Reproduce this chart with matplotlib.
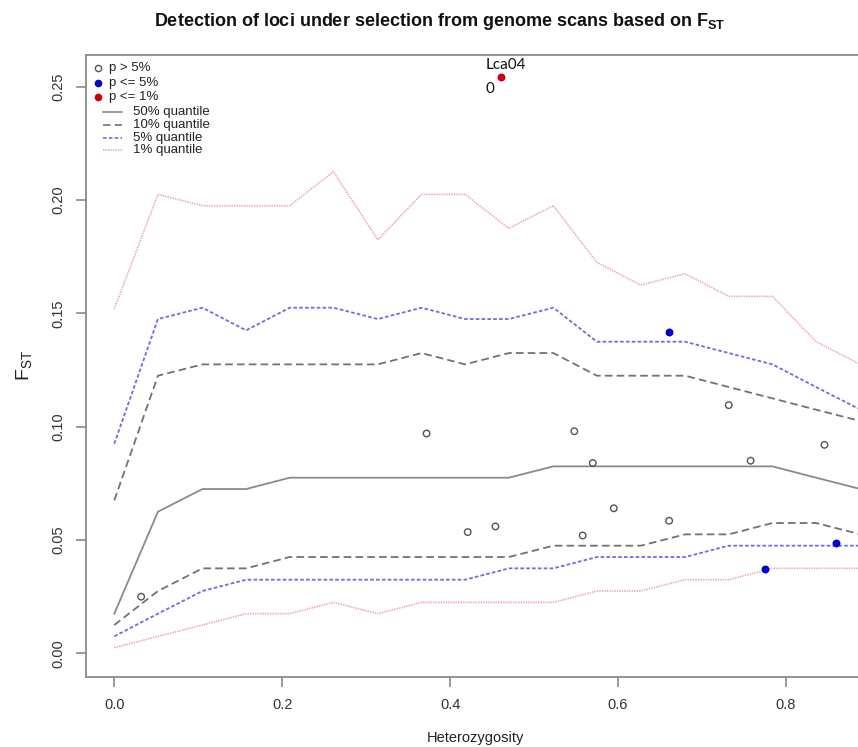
import numpy as np
import matplotlib
matplotlib.use("Agg")
import matplotlib.pyplot as plt
from matplotlib.lines import Line2D

plt.rcParams["font.family"] = ["Liberation Sans", "DejaVu Sans"]
plt.rcParams["mathtext.fontset"] = "custom"
plt.rcParams["mathtext.rm"] = "Liberation Sans"
plt.rcParams["mathtext.it"] = "Liberation Sans:italic"
plt.rcParams["mathtext.bf"] = "Liberation Sans:bold"
plt.rcParams["lines.scale_dashes"] = False

# heterozygosity bins of the simulated quantile curves
het_bins = [0.0, 0.052, 0.105, 0.157, 0.209, 0.261, 0.314, 0.366, 0.418,
            0.470, 0.523, 0.575, 0.627, 0.680, 0.732, 0.784, 0.836, 0.889]

q50 = [0.0175, 0.0625, 0.0725, 0.0725, 0.0775, 0.0775, 0.0775, 0.0775, 0.0775,
       0.0775, 0.0825, 0.0825, 0.0825, 0.0825, 0.0825, 0.0825, 0.0775, 0.0725]
q10_hi = [0.0675, 0.1225, 0.1275, 0.1275, 0.1275, 0.1275, 0.1275, 0.1325, 0.1275,
          0.1325, 0.1325, 0.1225, 0.1225, 0.1225, 0.1175, 0.1125, 0.1075, 0.1025]
q10_lo = [0.0125, 0.0275, 0.0375, 0.0375, 0.0425, 0.0425, 0.0425, 0.0425, 0.0425,
          0.0425, 0.0475, 0.0475, 0.0475, 0.0525, 0.0525, 0.0575, 0.0575, 0.0525]
q5_hi = [0.0925, 0.1475, 0.1525, 0.1425, 0.1525, 0.1525, 0.1475, 0.1525, 0.1475,
         0.1475, 0.1525, 0.1375, 0.1375, 0.1375, 0.1325, 0.1275, 0.1175, 0.1075]
q5_lo = [0.0075, 0.0175, 0.0275, 0.0325, 0.0325, 0.0325, 0.0325, 0.0325, 0.0325,
         0.0375, 0.0375, 0.0425, 0.0425, 0.0425, 0.0475, 0.0475, 0.0475, 0.0475]
q1_hi = [0.152, 0.2025, 0.1975, 0.1975, 0.1975, 0.2125, 0.1825, 0.2025, 0.2025,
         0.1875, 0.1975, 0.1725, 0.1625, 0.1675, 0.1575, 0.1575, 0.1375, 0.1275]
q1_lo = [0.0025, 0.0075, 0.0125, 0.0175, 0.0175, 0.0225, 0.0175, 0.0225, 0.0225,
         0.0225, 0.0225, 0.0275, 0.0275, 0.0325, 0.0325, 0.0375, 0.0375, 0.0375]

# observed loci
neutral_het = [0.032, 0.372, 0.421, 0.454, 0.548, 0.558, 0.570, 0.595, 0.661, 0.732, 0.758, 0.846]
neutral_fst = [0.025, 0.097, 0.0535, 0.056, 0.098, 0.052, 0.084, 0.064, 0.0585, 0.1095, 0.085, 0.092]
p5_het = [0.661, 0.775, 0.860]
p5_fst = [0.1416, 0.037, 0.0485]
p1_het = [0.4607]
p1_fst = [0.2541]

legend_labels = ["p > 5%", "p <= 5%", "p <= 1%",
                 "50% quantile", "10% quantile", "5% quantile", "1% quantile"]

W, H = 858, 747
fig = plt.figure(figsize=(W / 100, H / 100), dpi=100)
ax = fig.add_axes([86 / W, (H - 676.7) / H, (878.2 - 86) / W, (676.7 - 55) / H])

c50, c10, c5, c1 = "#8a8a8a", "#727272", "#6b6bec", "#f1a3ad"
ax.plot(het_bins, q50, color=c50, lw=1.3)
ax.plot(het_bins, q10_hi, color=c10, lw=1.3, dashes=(5.5, 3))
ax.plot(het_bins, q10_lo, color=c10, lw=1.3, dashes=(5.5, 3))
ax.plot(het_bins, q5_hi, color=c5, lw=1.3, dashes=(2.6, 1.6))
ax.plot(het_bins, q5_lo, color=c5, lw=1.3, dashes=(2.6, 1.6))
ax.plot(het_bins, q1_hi, color=c1, lw=1.2, dashes=(1.0, 0.8))
ax.plot(het_bins, q1_lo, color=c1, lw=1.2, dashes=(1.0, 0.8))

ax.scatter(neutral_het, neutral_fst, s=22, facecolors="none", edgecolors="#555555", linewidths=1.0, zorder=3)
ax.scatter(p5_het, p5_fst, s=22, color="#0000cc", zorder=3)
ax.scatter(p1_het, p1_fst, s=22, color="#cc0011", zorder=3)

ax.annotate("Lca04", (p1_het[0], p1_fst[0]), xytext=(3.6, 8.9), textcoords="offset points",
            ha="center", va="center", fontsize=11, family=["Lato", "DejaVu Sans"], color="#111111")
ax.annotate("0", (p1_het[0], p1_fst[0]), xytext=(-8.0, -8.6), textcoords="offset points",
            ha="center", va="center", fontsize=11, family=["Lato", "DejaVu Sans"], color="#111111")

ax.set_xlim(-0.0337, 0.91)
ax.set_ylim(-0.0103, 0.264)
ax.set_xticks([0.0, 0.2, 0.4, 0.6, 0.8])
ax.set_xticklabels(["0.0", "0.2", "0.4", "0.6", "0.8"])
ax.set_yticks([0.0, 0.05, 0.10, 0.15, 0.20, 0.25])
ax.set_yticklabels(["0.00", "0.05", "0.10", "0.15", "0.20", "0.25"], rotation=90, va="center")

for s in ax.spines.values():
    s.set_color("#8a8a8a")
    s.set_linewidth(1.3)
ax.tick_params(length=7, width=1.2, color="#8a8a8a", labelsize=10.5, labelcolor="#333333", pad=8)

ax.set_xlabel("Heterozygosity", fontsize=10.5, color="#222222")
ax.xaxis.set_label_coords((475 - 86) / (878.2 - 86), -(731 - 676.7) / (676.7 - 55))
ax.set_ylabel(r"$\mathrm{F_{ST}}$", fontsize=14, color="#222222")
ax.yaxis.set_label_coords(-(86 - 34) / (878.2 - 86), 0.5)

fig.text(440 / W, 1 - 22 / H, r"Detection of loci under selection from genome scans based on $\mathbf{F_{ST}}$",
         ha="center", va="center", fontsize=13, fontweight="bold", color="#111111")

# legend, drawn as in the original (two columns of keys)
rows_y = [68.3, 83.3, 96.7, 111.7, 125, 138.3, 150]
pt_styles = [dict(marker="o", mfc="none", mec="#555555", mew=1.0),
             dict(marker="o", mfc="#0000cc", mec="#0000cc"),
             dict(marker="o", mfc="#cc0011", mec="#cc0011")]
ln_styles = [dict(color=c50), dict(color=c10, dashes=(5.5, 3)),
             dict(color=c5, dashes=(2.6, 1.6)), dict(color=c1, dashes=(1.0, 0.8))]
for i, lab in enumerate(legend_labels):
    yy = 1 - rows_y[i] / H
    if i < 3:
        fig.add_artist(Line2D([98.3 / W], [yy], ms=4.5, ls="none", **pt_styles[i]))
        fig.text(109.3 / W, yy, lab, ha="left", va="center", fontsize=9.5, color="#222222")
    else:
        fig.add_artist(Line2D([103 / W, 122 / W], [yy, yy], lw=1.2, **ln_styles[i - 3]))
        fig.text(132.7 / W, yy, lab, ha="left", va="center", fontsize=9.5, color="#222222")

fig.savefig("out.png", dpi=100)
